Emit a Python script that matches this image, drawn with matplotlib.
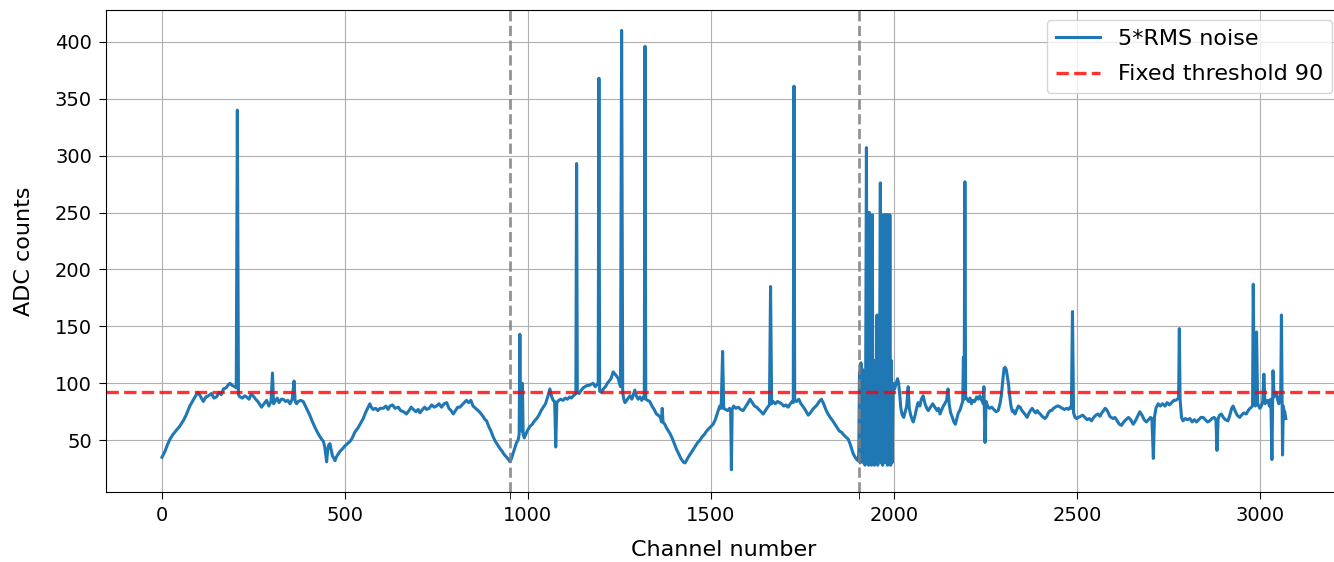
import matplotlib.pyplot as plt
import numpy as np

# 5*RMS noise per channel as (channel, ADC counts)
section_a = [
    (0, 35), (8, 40), (15, 46), (22, 51), (30, 55), (40, 59), (48, 62), (58, 67), (66, 72),
    (76, 80), (85, 85), (92, 89), (99, 92), (106, 88), (113, 84), (120, 88), (127, 89),
    (135, 91), (142, 87), (149, 88), (156, 92), (162, 90), (168, 95), (175, 96), (182, 99),
    (186, 100), (192, 98), (199, 97), (203, 96), (206, 340), (209, 90), (213, 88), (220, 87),
    (226, 89), (231, 88), (238, 86), (243, 90), (249, 89), (256, 86), (262, 84), (268, 81),
    (272, 79), (279, 82), (286, 85), (292, 80), (298, 84), (302, 109), (305, 82), (309, 84),
    (315, 87), (320, 83), (326, 86), (331, 86), (338, 84), (344, 85), (350, 82), (356, 86),
    (361, 102), (364, 84), (368, 82), (372, 84), (379, 85), (386, 84), (392, 80), (398, 76),
    (404, 72), (410, 67), (417, 62), (423, 58), (430, 54), (436, 51), (441, 49), (445, 44),
    (448, 36), (450, 31), (453, 42), (456, 46), (459, 47), (462, 42), (466, 36), (470, 34),
    (473, 32), (476, 35), (480, 37), (486, 40), (492, 42), (500, 45), (507, 47), (514, 49),
    (520, 52), (527, 57), (536, 61), (543, 65), (550, 69), (556, 74), (562, 78), (568, 82),
    (572, 79), (577, 77), (584, 78), (590, 76), (596, 78), (605, 78), (612, 80), (618, 77),
    (623, 80), (630, 81), (637, 78), (646, 79), (652, 76), (660, 75), (668, 73), (675, 76),
    (681, 79), (687, 77), (694, 75), (700, 77), (705, 74), (712, 77), (718, 79), (723, 77),
    (730, 78), (737, 81), (744, 79), (750, 80), (757, 82), (764, 79), (771, 82), (778, 83),
    (784, 78), (790, 76), (796, 73), (802, 76), (808, 79), (814, 79), (820, 81), (826, 83),
    (832, 85), (838, 83), (844, 85), (850, 80), (857, 78), (864, 76), (870, 74), (877, 71),
    (883, 68), (887, 67), (893, 62), (899, 58), (905, 53), (911, 49), (917, 46), (923, 43),
    (930, 40), (936, 37), (942, 35), (947, 33), (951, 31),
]

section_b = [
    (955, 34), (959, 38), (964, 43), (969, 48), (973, 50), (976, 55), (978, 143), (980, 60),
    (983, 58), (985, 100), (987, 55), (990, 52), (994, 55), (998, 58), (1005, 62), (1012, 64),
    (1018, 67), (1024, 69), (1030, 72), (1036, 76), (1042, 79), (1048, 82), (1054, 88),
    (1060, 95), (1065, 88), (1069, 85), (1073, 84), (1076, 44), (1079, 83), (1084, 85),
    (1090, 86), (1096, 85), (1102, 87), (1108, 86), (1114, 88), (1119, 87), (1124, 89),
    (1128, 90), (1131, 91), (1133, 293), (1135, 92), (1140, 91), (1146, 94), (1151, 96),
    (1156, 97), (1161, 98), (1166, 98), (1172, 99), (1178, 100), (1184, 97), (1189, 99),
    (1192, 100), (1194, 368), (1196, 93), (1201, 92), (1206, 95), (1212, 97), (1217, 100),
    (1222, 102), (1227, 104), (1233, 110), (1238, 108), (1243, 106), (1247, 104), (1251, 99),
    (1253, 97), (1256, 410), (1259, 92), (1262, 86), (1265, 83), (1270, 85), (1274, 87),
    (1279, 89), (1284, 86), (1288, 90), (1292, 94), (1296, 89), (1301, 86), (1306, 88),
    (1311, 85), (1316, 88), (1318, 87), (1320, 396), (1322, 86), (1327, 85), (1333, 84),
    (1339, 80), (1345, 77), (1351, 73), (1356, 72), (1362, 70), (1365, 66), (1367, 78),
    (1369, 66), (1374, 64), (1380, 60), (1388, 56), (1394, 52), (1400, 47), (1406, 42),
    (1412, 38), (1418, 34), (1424, 31), (1429, 30), (1433, 32), (1438, 35), (1444, 38),
    (1452, 42), (1458, 45), (1464, 48), (1470, 50), (1476, 53), (1482, 55), (1488, 58),
    (1494, 60), (1500, 62), (1506, 64), (1512, 68), (1518, 74), (1524, 80), (1528, 78),
    (1532, 128), (1535, 78), (1540, 77), (1546, 76), (1551, 78), (1554, 76), (1556, 24),
    (1558, 77), (1562, 80), (1568, 78), (1575, 79), (1581, 77), (1588, 76), (1594, 79),
    (1600, 82), (1607, 86), (1613, 83), (1619, 80), (1625, 79), (1631, 77), (1637, 75),
    (1643, 73), (1649, 76), (1655, 79), (1660, 81), (1663, 185), (1666, 82), (1670, 84),
    (1676, 82), (1682, 84), (1688, 83), (1693, 82), (1699, 80), (1705, 81), (1711, 79),
    (1717, 82), (1722, 84), (1725, 83), (1727, 361), (1729, 85), (1734, 84), (1740, 86),
    (1746, 82), (1753, 79), (1759, 76), (1766, 72), (1772, 74), (1778, 77), (1784, 79),
    (1790, 81), (1796, 84), (1802, 86), (1808, 82), (1814, 77), (1820, 73), (1826, 70),
    (1833, 67), (1839, 64), (1845, 61), (1851, 58), (1857, 57), (1862, 55), (1868, 53),
    (1875, 51), (1880, 47), (1885, 42), (1889, 38), (1894, 35), (1899, 33), (1902, 32),
]

section_c = [
    (1904, 38), (1906, 110), (1908, 30), (1910, 118), (1913, 42), (1915, 112), (1917, 30),
    (1919, 96), (1921, 28), (1923, 115), (1925, 307), (1927, 30), (1929, 250), (1931, 28),
    (1933, 250), (1935, 40), (1937, 115), (1939, 28), (1941, 248), (1943, 30), (1945, 100),
    (1947, 28), (1949, 120), (1951, 35), (1954, 160), (1956, 28), (1958, 100), (1960, 40),
    (1963, 276), (1965, 30), (1967, 248), (1969, 28), (1971, 120), (1973, 248), (1975, 30),
    (1977, 248), (1979, 35), (1981, 248), (1983, 28), (1985, 248), (1987, 30), (1989, 248),
    (1991, 28), (1993, 120), (1995, 30), (1998, 100), (2002, 95), (2006, 100), (2010, 104),
    (2013, 100), (2016, 90), (2019, 78), (2023, 72), (2027, 70), (2031, 75), (2035, 80),
    (2039, 97), (2042, 78), (2046, 72), (2050, 68), (2053, 66), (2058, 72), (2062, 78),
    (2066, 83), (2071, 80), (2075, 86), (2080, 89), (2085, 82), (2090, 78), (2094, 76),
    (2100, 79), (2106, 82), (2112, 79), (2118, 76), (2122, 78), (2126, 73), (2131, 77),
    (2135, 80), (2139, 82), (2144, 85), (2148, 95), (2151, 82), (2155, 74), (2160, 70),
    (2164, 66), (2168, 64), (2172, 69), (2176, 74), (2180, 76), (2184, 80), (2188, 84),
    (2190, 123), (2192, 86), (2194, 277), (2196, 88), (2200, 86), (2204, 84), (2208, 87),
    (2212, 82), (2216, 85), (2221, 84), (2226, 88), (2231, 86), (2235, 89), (2240, 85),
    (2244, 82), (2246, 97), (2249, 48), (2252, 84), (2256, 80), (2261, 78), (2267, 79),
    (2273, 77), (2279, 75), (2285, 76), (2290, 82), (2294, 90), (2298, 104), (2301, 113),
    (2304, 114), (2307, 112), (2310, 106), (2313, 100), (2316, 90), (2320, 80), (2324, 75),
    (2327, 76), (2331, 73), (2336, 77), (2340, 80), (2345, 79), (2350, 76), (2355, 74),
    (2360, 72), (2364, 70), (2368, 73), (2373, 76), (2378, 78), (2382, 76), (2387, 74),
    (2392, 76), (2396, 74), (2400, 73), (2405, 71), (2409, 70), (2413, 69), (2418, 71),
    (2422, 74), (2427, 76), (2431, 76), (2436, 78), (2441, 79), (2446, 80), (2450, 80),
    (2455, 79), (2460, 78), (2466, 77), (2472, 78), (2477, 77), (2482, 79), (2485, 78),
    (2488, 163), (2491, 74), (2495, 70), (2499, 69), (2504, 70), (2510, 71), (2516, 72),
    (2522, 70), (2528, 68), (2534, 69), (2540, 67), (2546, 70), (2552, 72), (2558, 73),
    (2563, 71), (2568, 74), (2573, 76), (2577, 78), (2581, 77), (2586, 74), (2590, 71),
    (2594, 70), (2599, 69), (2604, 70), (2610, 67), (2616, 64), (2622, 63), (2628, 66),
    (2634, 68), (2641, 70), (2647, 68), (2654, 64), (2660, 67), (2666, 71), (2672, 75),
    (2678, 72), (2684, 68), (2690, 66), (2696, 68), (2701, 70), (2705, 69), (2709, 34),
    (2712, 70), (2716, 78), (2722, 82), (2728, 80), (2734, 82), (2741, 80), (2747, 83),
    (2753, 81), (2759, 83), (2765, 85), (2770, 85), (2774, 86), (2778, 87), (2780, 148),
    (2782, 86), (2786, 70), (2790, 67), (2796, 69), (2802, 68), (2809, 69), (2815, 66),
    (2821, 68), (2827, 66), (2833, 68), (2839, 70), (2845, 70), (2851, 68), (2857, 66),
    (2863, 67), (2869, 69), (2875, 70), (2880, 68), (2883, 41), (2886, 69), (2890, 72),
    (2895, 73), (2900, 70), (2906, 68), (2913, 67), (2918, 72), (2923, 78), (2927, 80),
    (2932, 76), (2938, 72), (2945, 70), (2950, 72), (2956, 74), (2963, 73), (2968, 76),
    (2973, 78), (2977, 79), (2980, 80), (2982, 187), (2985, 84), (2988, 80), (2991, 145),
    (2994, 82), (2997, 80), (3000, 78), (3004, 80), (3008, 84), (3011, 108), (3014, 82),
    (3018, 84), (3022, 85), (3026, 80), (3030, 86), (3033, 33), (3036, 111), (3039, 88),
    (3042, 90), (3045, 92), (3049, 85), (3052, 82), (3055, 88), (3057, 90), (3059, 160),
    (3061, 85), (3062, 37), (3064, 80), (3066, 76), (3068, 75), (3071, 69),
]

section_edges = [952, 1904]   # dashed boundaries between chip sections
threshold_y = 92
threshold_label = "Fixed threshold 90"

pts = np.array(section_a + section_b + section_c)
channel = pts[:, 0]
noise = pts[:, 1]

plt.rcParams['font.size'] = 14

fig = plt.figure(figsize=(13.34, 5.62), dpi=100)
ax = fig.add_axes([0.0793, 0.1246, 0.9267, 0.8577])

ax.plot(channel, noise, label='5*RMS noise', color='#1f77b4', lw=2.2)
ax.axhline(threshold_y, color='red', ls='--', lw=2.4, alpha=0.8, label=threshold_label)
for xe in section_edges:
    ax.axvline(xe, color='gray', ls='--', lw=2, alpha=0.85)

ax.set_xlim(-153.5, 3224.5)
ax.set_ylim(4.5, 428)
ax.set_xticks([0, 500, 1000, 1500, 2000, 2500, 3000])
ax.set_yticks([50, 100, 150, 200, 250, 300, 350, 400])
ax.set_xticks(section_edges, minor=True)
ax.tick_params(which='both', length=5, pad=5, labelsize=14)
ax.grid(True)
ax.set_xlabel("Channel number", fontsize=16, labelpad=11)
ax.set_ylabel("ADC counts", fontsize=16, labelpad=15)
ax.legend(loc='upper right', fontsize=16, borderaxespad=0.45, labelspacing=0.7)

fig.savefig("out.png")
